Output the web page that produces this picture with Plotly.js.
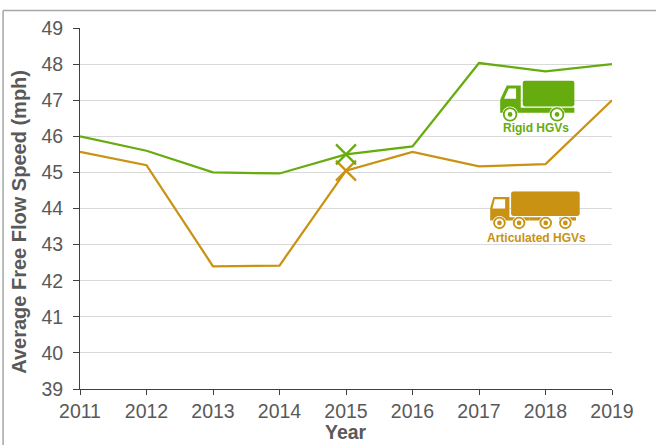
<!DOCTYPE html>
<html><head><meta charset="utf-8">
<script src="https://cdn.plot.ly/plotly-3.0.1.min.js"></script>
<style>html,body{margin:0;padding:0;background:#fff;overflow:hidden}#c{width:656px;height:445px}</style>
</head><body><div id="c"></div>
<script>
const years=[2011,2012,2013,2014,2015,2016,2017,2018,2019];
const rigid=[46.0,45.6,45.0,44.97,45.5,45.72,48.03,47.8,48.0];
const articulated=[45.57,45.2,42.4,42.42,45.05,45.57,45.17,45.23,47.0];
const markYear=[2015];
const rigidMark=[45.5];
const articulatedMark=[45.05];
const yTicks=[39,40,41,42,43,44,45,46,47,48,49];
const GREEN='#66AC0E', GOLD='#C99212', TXT='#595959';
const W=656,H=445,L=79.5,R=612,T=27.5,B=389;
const px=x=>(x-L)/(R-L), py=y=>(B-y)/(B-T);

function wheel(cx,cy,r,c){return `<circle cx="${cx}" cy="${cy}" r="${r+5}" fill="#fff"/><circle cx="${cx}" cy="${cy}" r="${r}" fill="#fff" stroke="${c}" stroke-width="5.5"/><circle cx="${cx}" cy="${cy}" r="7" fill="${c}"/>`;}
function uri(body,w,h){return 'data:image/svg+xml;charset=utf-8,'+encodeURIComponent(`<svg xmlns="http://www.w3.org/2000/svg" width="${w}" height="${h}" viewBox="0 0 ${w} ${h}">${body}</svg>`);}
const rigidIcon=uri(`<rect x="68" y="0" width="155" height="78" rx="8" fill="${GREEN}"/>
<path d="M20 15H62V82H223V97H0V58Z" fill="${GREEN}"/><path d="M26 24H48V55H12Z" fill="#fff"/>`
+wheel(30,102,19,GREEN)+wheel(171,102,19,GREEN),225,126);
const artIcon=uri(`<rect x="63" y="0" width="206" height="74" rx="8" fill="${GOLD}"/>
<path d="M10 17H58V78H118V88H0V50Z" fill="${GOLD}"/><path d="M14 24H45V52H7Z" fill="#fff"/>
<path d="M118 78H160V88H118ZM208 78H258V88H208Z" fill="${GOLD}"/>`
+wheel(28,95,16,GOLD)+wheel(87,95,16,GOLD)+wheel(167,95,16,GOLD)+wheel(226,95,16,GOLD),270,116);

const line=(y,c,n)=>({x:years,y:y,name:n,mode:'lines',line:{color:c,width:2.25,shape:'linear'},hoverinfo:'x+y+name'});
const mark=(y,c,n)=>({x:markYear,y:y,name:n,mode:'markers',cliponaxis:false,marker:{symbol:'x-thin',size:20,color:c,line:{color:c,width:2.25}}});
const traces=[line(articulated,GOLD,'Articulated HGVs'),line(rigid,GREEN,'Rigid HGVs'),
 mark(articulatedMark,GOLD,'Articulated HGVs'),mark(rigidMark,GREEN,'Rigid HGVs')];

const bl={type:'line',xref:'paper',yref:'paper',line:{color:'#a6a6a6',width:1.5}};
const note=(t,x,y,size,c,angle)=>({text:'<b>'+t+'</b>',xref:'paper',yref:'paper',x:px(x),y:py(y),showarrow:false,textangle:angle||0,font:{size:size,color:c},xanchor:'center',yanchor:'middle'});
const layout={
 width:W,height:H,showlegend:false,paper_bgcolor:'#fff',plot_bgcolor:'#fff',
 margin:{l:L,r:W-R,t:T,b:H-B,pad:0},
 font:{family:'"Liberation Sans",Arial,sans-serif',color:TXT},
 xaxis:{range:[2011,2019],tickvals:years,ticks:'outside',ticklen:5,tickwidth:1,tickcolor:'#404040',
  showline:true,linecolor:'#404040',linewidth:1,showgrid:false,zeroline:false,
  tickfont:{size:19.5,color:TXT},automargin:false},
 yaxis:{range:[39,49],tickvals:yTicks,ticks:'outside',ticklen:6,tickwidth:1,tickcolor:'#404040',
  showline:true,linecolor:'#404040',linewidth:1,showgrid:true,gridcolor:'#d9d9d9',gridwidth:1,zeroline:false,
  tickfont:{size:19.5,color:TXT},ticklabelstandoff:6,automargin:false},
 shapes:[
  Object.assign({},bl,{x0:px(2.5),x1:px(2.5),y0:py(10),y1:py(445)}),
  Object.assign({},bl,{x0:px(2.5),x1:px(656),y0:py(10),y1:py(10)})
 ],
 images:[
  {source:rigidIcon,xref:'paper',yref:'paper',x:px(500),y:py(80),sizex:75/(R-L),sizey:42/(B-T),sizing:'stretch',xanchor:'left',yanchor:'top',layer:'above'},
  {source:artIcon,xref:'paper',yref:'paper',x:px(490),y:py(191),sizex:90/(R-L),sizey:38.7/(B-T),sizing:'stretch',xanchor:'left',yanchor:'top',layer:'above'}
 ],
 annotations:[
  note('Rigid HGVs',536,127.5,12,GREEN),
  note('Articulated HGVs',536,238,12,GOLD),
  note('Year',346,432.5,19.5,TXT),
  note('Average Free Flow Speed (mph)',18.5,221.5,20,TXT,-90)
 ]
};
Plotly.newPlot('c',traces,layout,{displayModeBar:false,responsive:false});
</script></body></html>
